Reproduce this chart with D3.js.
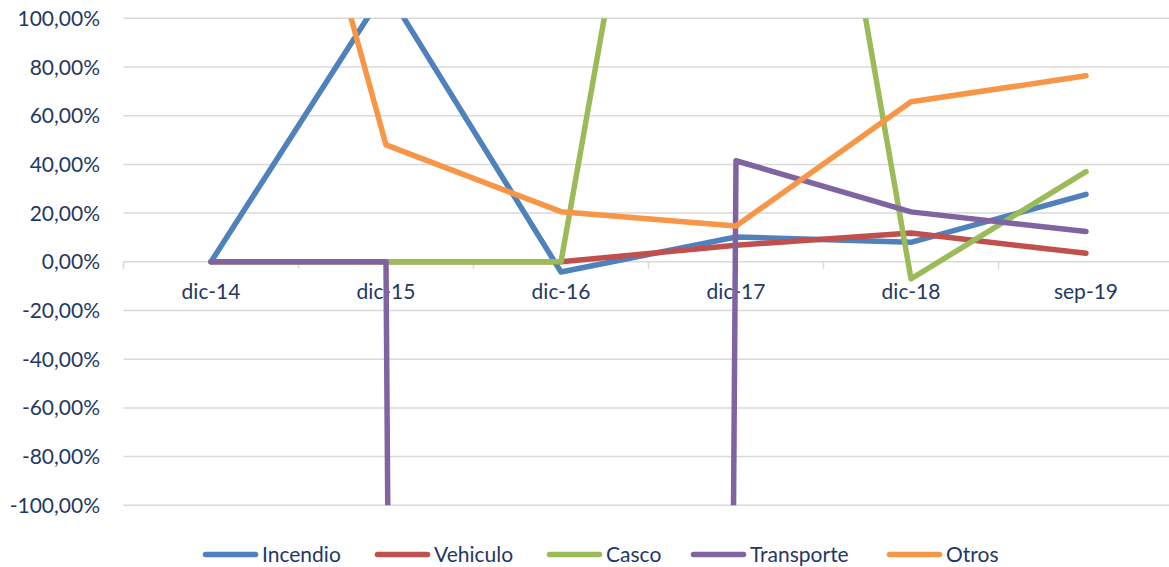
<!DOCTYPE html>
<html>
<head>
<meta charset="utf-8">
<script src="https://cdn.jsdelivr.net/npm/d3@7"></script>
<style>
  html, body { margin: 0; padding: 0; background: #ffffff; }
  svg { display: block; }
  text { font-family: Lato, "Open Sans", sans-serif; fill: #1f3864; }
</style>
</head>
<body>
<svg id="chart" width="1169" height="567"></svg>
<script>
// Periods on the category axis
const categories = ["dic-14", "dic-15", "dic-16", "dic-17", "dic-18", "sep-19"];

// Year-over-year variation per line of business (fractions, 1 = 100%)
const incendio   = [0, 1.12, -0.042, 0.102, 0.08, 0.277];
const vehiculo   = [0, 0, 0, 0.068, 0.118, 0.035];
const casco      = [0, 0, 0, 4.05, -0.07, 0.37];
const transporte = [0, 0, -100, 0.415, 0.205, 0.124];
const otros      = [3.09, 0.48, 0.206, 0.147, 0.657, 0.764];

const seriesNames  = ["Incendio", "Vehiculo", "Casco", "Transporte", "Otros"];
const seriesValues = [incendio, vehiculo, casco, transporte, otros];
const seriesColors = ["#4f81bd", "#c0504d", "#9bbb59", "#8064a2", "#f79646"];

// Value axis ticks
const yTicks = [-1, -0.8, -0.6, -0.4, -0.2, 0, 0.2, 0.4, 0.6, 0.8, 1];

const svg = d3.select("#chart");

const plot = { left: 123.5, right: 1173.5, top: 18.3, bottom: 505.3 };

const x = d3.scalePoint()
  .domain(categories)
  .range([plot.left, plot.right])
  .padding(0.5);

const y = d3.scaleLinear()
  .domain([-1, 1])
  .range([plot.bottom, plot.top]);

// Spanish-style percent: comma decimal, plain hyphen for negatives
const fmt = v => d3.format(".2f")(v * 100).replace("\u2212", "-").replace(".", ",") + "%";

// Horizontal gridlines
svg.append("g")
  .selectAll("line")
  .data(yTicks)
  .join("line")
  .attr("x1", plot.left)
  .attr("x2", plot.right)
  .attr("y1", d => y(d))
  .attr("y2", d => y(d))
  .attr("stroke", "#d9d9d9")
  .attr("stroke-width", 1.5);

// Value axis labels
svg.append("g")
  .selectAll("text")
  .data(yTicks)
  .join("text")
  .attr("x", 100)
  .attr("y", d => y(d))
  .attr("dy", "0.36em")
  .attr("text-anchor", "end")
  .attr("font-size", 21)
  .text(fmt);

// Category axis at zero with tick marks between categories
const step = x.step();
const boundaries = d3.range(categories.length + 1).map(i => plot.left + i * step);
svg.append("g")
  .selectAll("line")
  .data(boundaries)
  .join("line")
  .attr("x1", d => d)
  .attr("x2", d => d)
  .attr("y1", y(0))
  .attr("y2", y(0) + 7)
  .attr("stroke", "#d9d9d9")
  .attr("stroke-width", 1.5);

svg.append("g")
  .selectAll("text")
  .data(categories)
  .join("text")
  .attr("x", d => x(d))
  .attr("y", y(0) + 37)
  .attr("text-anchor", "middle")
  .attr("font-size", 21)
  .text(d => d);

// Series lines, clipped to the plot area
svg.append("clipPath")
  .attr("id", "plot-clip")
  .append("rect")
  .attr("x", 0)
  .attr("y", plot.top)
  .attr("width", 1169)
  .attr("height", plot.bottom - plot.top);

const line = d3.line()
  .x((d, i) => x(categories[i]))
  .y(d => y(d));

svg.append("g")
  .attr("clip-path", "url(#plot-clip)")
  .selectAll("path")
  .data(seriesValues)
  .join("path")
  .attr("d", d => line(d))
  .attr("fill", "none")
  .attr("stroke", (d, i) => seriesColors[i])
  .attr("stroke-width", 5.5)
  .attr("stroke-linejoin", "round")
  .attr("stroke-linecap", "round");

// Legend along the bottom
const legendX = [203, 375, 547, 691, 887];
const ly = 554.5;
const legend = svg.append("g")
  .selectAll("g")
  .data(seriesNames)
  .join("g")
  .attr("transform", (d, i) => `translate(${legendX[i]},${ly})`);

legend.append("line")
  .attr("x1", 2.5)
  .attr("x2", 52.5)
  .attr("stroke", (d, i) => seriesColors[i])
  .attr("stroke-width", 5.5)
  .attr("stroke-linecap", "round");

legend.append("text")
  .attr("x", 59)
  .attr("dy", "0.36em")
  .attr("font-size", 21)
  .text(d => d);
</script>
</body>
</html>
